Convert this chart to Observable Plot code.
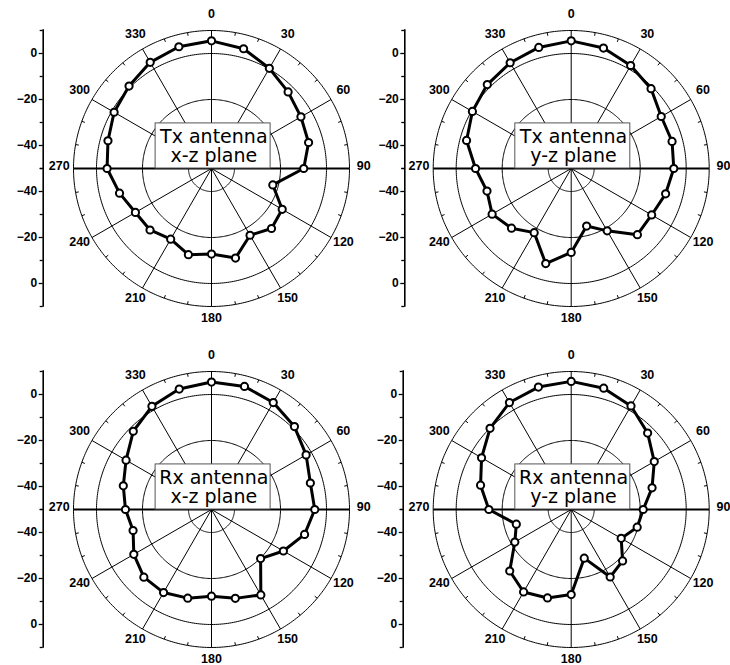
<!DOCTYPE html>
<html>
<head>
<meta charset="utf-8">
<script src="https://cdn.jsdelivr.net/npm/d3@7"></script>
<script src="https://cdn.jsdelivr.net/npm/@observablehq/plot@0.6"></script>
<style>
  html, body { margin: 0; padding: 0; background: white; }
  #wrap { position: relative; width: 730px; height: 665px; overflow: hidden; }
  .panel { position: absolute; }
</style>
</head>
<body>
<div id="wrap"></div>
<script>
// ---- data (dB, measured every 15 degrees starting at 0°, clockwise) ----
const angles = [0, 15, 30, 45, 60, 75, 90, 105, 120, 135, 150, 165,
                180, 195, 210, 225, 240, 255, 270, 285, 300, 315, 330, 345];
const txXZ = [5.5, 3.9, 0.3, -2.9, -5.1, -6.3, -9.9, -22.4, -14.5, -13.1, -16.5, -9.7,
              -12.8, -11.2, -14.5, -12.2, -11.8, -8.6, -4.6, -3.4, -1.1, 0.7, 3.3, 4.8];
const txYZ = [5.5, 4.2, 1.7, -0.9, -4.8, -4.6, -5.4, -7.5, -9.6, -9.3, -18.7, -24.1,
              -13.5, -7.2, -17.8, -13.3, -10.3, -12.1, -8.4, -2.9, -0.4, 1.6, 3.1, 4.5];
const rxXZ = [5.4, 5.4, 3.7, 1.0, -2.5, -5.5, -5.1, -8.1, -13.9, -19.8, -7.1, -10.0,
              -12.3, -10.1, -8.3, -8.4, -11.0, -14.7, -12.6, -10.3, -7.1, -1.9, 1.8, 4.2];
const rxYZ = [5.7, 4.6, 2.0, -3.0, -8.3, -13.6, -18.7, -20.3, -24.9, -18.4, -16.1, -28.1,
              -13.0, -10.2, -8.6, -12.2, -21.7, -25.3, -14.2, -9.2, -5.0, -0.1, 3.7, 5.1];
const titles = ["Tx antenna\nx-z plane", "Tx antenna\ny-z plane",
                "Rx antenna\nx-z plane", "Rx antenna\ny-z plane"];
const angleLabels = [0, 30, 60, 90, 120, 150, 180, 210, 240, 270, 300, 330];
const gridRings = [-40, -20, 0];          // dB
const radialMin = -50, radialMax = 10;     // dB at centre / outer ring
const axisTicks = [0, -20, -40];           // labelled dB ticks on the side axis
const axisMinor = [10, -10, -30, -50];

// ---- layout ----
const K = 2.3; // px per dB
const panels = [
  {series: txXZ, title: titles[0], left: 0,   top: 0,   w: 365, h: 330, cx: 211,   cy: 168, ax: 42.7},
  {series: txYZ, title: titles[1], left: 365, top: 0,   w: 365, h: 330, cx: 205.7, cy: 168, ax: 39.3},
  {series: rxXZ, title: titles[2], left: 0,   top: 330, w: 365, h: 335, cx: 211,   cy: 179, ax: 42.7},
  {series: rxYZ, title: titles[3], left: 365, top: 330, w: 365, h: 335, cx: 205.7, cy: 179, ax: 37.7}
];

const R = db => db - radialMin;               // radius in scale units
const P = (deg, r) => { const t = deg * Math.PI / 180; return {x: r * Math.sin(t), y: r * Math.cos(t)}; };
const Rmax = R(radialMax);
const fmt = v => (v < 0 ? "\u2212" : "") + Math.abs(v);

function makePanel(p) {
  const pts = angles.map((a, i) => ({a, db: p.series[i], ...P(a, R(p.series[i]))}));
  const rings = gridRings.concat([radialMax]).flatMap(db =>
    d3.range(0, 361, 1).map(a => ({ring: db, ...P(a, R(db))})));
  const spokes = d3.range(0, 360, 30).map(a => ({a, x1: 0, y1: 0, x2: P(a, Rmax).x, y2: P(a, Rmax).y}));
  const minorTicks = d3.range(0, 360, 10).filter(a => a % 30 !== 0).map(a => ({
    x1: P(a, Rmax).x, y1: P(a, Rmax).y, x2: P(a, Rmax - 1.4).x, y2: P(a, Rmax - 1.4).y}));
  const labels = angleLabels.map(a => ({a, ...P(a, Rmax + 6.2)}));
  const x0 = (p.ax - p.cx) / K, x1 = (p.w - p.cx) / K;
  const y0 = -(p.h - p.cy) / K, y1 = p.cy / K;
  const sideTicks = axisTicks.flatMap(db => [R(db), -R(db)]);
  const sideMinor = axisMinor.flatMap(db => [R(db), -R(db)]);
  const boxW = [-24.3, 25.7], boxH = [0, 19.6];

  return Plot.plot({
    width: p.w, height: p.h,
    marginLeft: p.ax, marginRight: 0, marginTop: 0, marginBottom: 0,
    style: {background: "transparent", overflow: "visible", fontFamily: "'Liberation Sans', Arial, sans-serif"},
    x: {domain: [x0, x1], axis: null},
    y: {domain: [y0, y1], axis: null},
    marks: [
      Plot.line(rings, {x: "x", y: "y", z: "ring", stroke: "black", strokeWidth: 1}),
      Plot.link(spokes, {x1: "x1", y1: "y1", x2: "x2", y2: "y2", stroke: "black",
        strokeWidth: d => (d.a % 180 === 90 ? 2 : 1)}),
      Plot.link(minorTicks, {x1: "x1", y1: "y1", x2: "x2", y2: "y2", stroke: "black", strokeWidth: 1}),
      Plot.text(labels, {x: "x", y: "y", dy: -2.4, text: d => String(d.a), fontSize: 12.5, fontWeight: "bold", fill: "black"}),
      Plot.ruleX([x0], {y1: -Rmax - 0.3, y2: Rmax + 0.3, stroke: "black", strokeWidth: 1.6}),
      Plot.axisY({ticks: sideTicks, tickFormat: v => fmt(Math.abs(v) + radialMin), tickSize: 4,
        tickPadding: 2, anchor: "left", label: null, fontSize: 12, fontWeight: "bold", strokeWidth: 1.3}),
      Plot.axisY({ticks: sideMinor, tickFormat: () => "", tickSize: 3, anchor: "left", label: null, strokeWidth: 1.3}),
      Plot.rect([p.title], {x1: boxW[0], x2: boxW[1], y1: boxH[0], y2: boxH[1],
        fill: "white", stroke: "#555", strokeWidth: 1}),
      Plot.text([p.title], {x: (boxW[0] + boxW[1]) / 2 + 0.3, y: (boxH[0] + boxH[1]) / 2,
        text: d => d, fontSize: 19, lineHeight: 1.0, fill: "black",
        fontFamily: "'DejaVu Sans', 'Liberation Sans', sans-serif"}),
      Plot.line(pts, {x: "x", y: "y", curve: "linear-closed", stroke: "black", strokeWidth: 3}),
      Plot.dot(pts, {x: "x", y: "y", r: 3.6, fill: "white", stroke: "black", strokeWidth: 2})
    ]
  });
}

const wrap = document.getElementById("wrap");
for (const p of panels) {
  const div = document.createElement("div");
  div.className = "panel";
  div.style.left = p.left + "px";
  div.style.top = p.top + "px";
  div.appendChild(makePanel(p));
  wrap.appendChild(div);
}
</script>
</body>
</html>
